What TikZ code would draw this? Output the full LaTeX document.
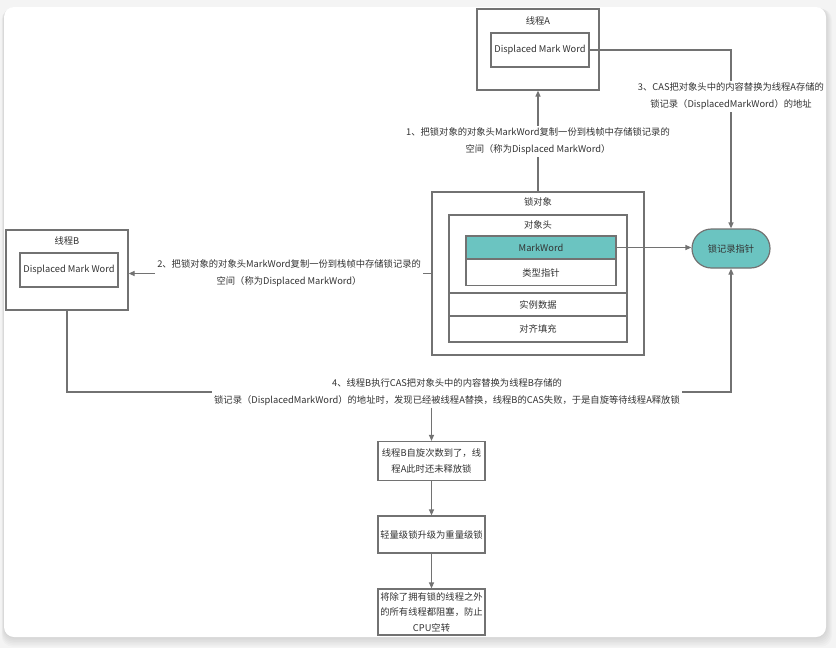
\documentclass[tikz,border=0pt]{standalone}
\usepackage{fontspec}
\setmainfont{Noto Sans CJK SC}
\usetikzlibrary{arrows.meta,shapes.misc}
\definecolor{markteal}{HTML}{6BC4C1}
\definecolor{wire}{HTML}{727272}
\definecolor{ink}{HTML}{333333}
\definecolor{page}{HTML}{F4F4F4}

\begin{document}
\begin{tikzpicture} [x=1pt,y=-1pt,
  box/.style= {shape=rectangle,draw=wire,line width=1.2pt,inner sep=0,text=ink,font=\fontsize{9.3}{15.5}\selectfont,align=center},
  title/.style= {text=ink,inner sep=0,font=\fontsize{9.3}{15.5}\selectfont},
  lbl/.style= {fill=white,text=ink,inner sep=2pt,align=center,font=\fontsize{9.3}{17}\selectfont},
  arr/.style= {draw=wire,line width=1.2pt,-{Triangle[length=6pt,width=5pt]}},
  wire/.style= {draw=wire,line width=1.2pt}]
  % Card
  \useasboundingbox (0,0) rectangle (836,648);
  \fill[page] (0,0) rectangle (836,648);
  \foreach \s in {1,...,6}
    {\fill[black,opacity=0.02,rounded corners=11pt] ({4-\s*0.4},{7+\s*0.3}) rectangle ({826+\s*1.0},{637+\s*1.6});}
  \fill[white,rounded corners=10pt] (4,7) rectangle (826,637);
  % Thread A
  {\node[box] [minimum width=122pt,minimum height=81pt] (thA) at (538,49.5) { };}
  {\node[title] (thAt) at (538,21) {线程A};}
  {\node[box] [minimum width=98pt,minimum height=34pt] (dmwA) at (540,50) {Displaced Mark Word};}
  % Thread B
  {\node[box] [minimum width=122pt,minimum height=80pt] (thB) at (67,270) { };}
  {\node[title] (thBt) at (67,241) {线程B};}
  {\node[box] [minimum width=98pt,minimum height=34pt] (dmwB) at (69,270) {Displaced Mark Word};}
  % Lock object
  {\node[box] [minimum width=212pt,minimum height=163pt] (lock) at (538,273.5) { };}
  {\node[title] (lockt) at (538,202) {锁对象};}
  {\node[box] [minimum width=178pt,minimum height=78pt] (hdr) at (538,254) { };}
  {\node[title] (hdrt) at (538,225) {对象头};}
  {\node[box] [minimum width=150pt,minimum height=23pt,fill=markteal] (mw) at (541,247.5) {MarkWord};}
  {\node[box] [minimum width=150pt,minimum height=26pt] (tp) at (541,272.5) {类型指针};}
  {\node[box] [minimum width=178pt,minimum height=23pt] (inst) at (538,304.5) {实例数据};}
  {\node[box] [minimum width=178pt,minimum height=26pt] (pad) at (538,329) {对齐填充};}
  % Lock record pointer
  {\node[box] [shape=rounded rectangle,minimum width=78pt,minimum height=39pt,fill=markteal] (ptr) at (731,248.5) {锁记录指针};}
  % Steps
  {\node[box] [minimum width=107pt,minimum height=39pt] (b1) at (431.5,461) {线程B自旋次数到了，线\\程A此时还未释放锁};}
  {\node[box] [minimum width=107pt,minimum height=37pt] (b2) at (431.5,534.5) {轻量级锁升级为重量级锁};}
  {\node[box] [minimum width=107pt,minimum height=46pt] (b3) at (431.5,612) {将除了拥有锁的线程之外\\的所有线程都阻塞，防止\\CPU空转};}
  % Connectors
  \draw[arr] (lock.north) -- node[lbl] (l1) {1、把锁对象的对象头MarkWord复制一份到栈帧中存储锁记录的\\空间（称为Displaced MarkWord）} (thA.south);
  \draw[arr] (lock.west) -- node[lbl,pos=0.47] (l2) {2、把锁对象的对象头MarkWord复制一份到栈帧中存储锁记录的\\空间（称为Displaced MarkWord）} (lock.west -| thB.east);
  \draw[arr] (dmwA.east) -| node[lbl,pos=0.63] (l3) {3、CAS把对象头中的内容替换为线程A存储的\\锁记录（DisplacedMarkWord）的地址} (ptr.north);
  \draw[arr] (mw.east) -- (mw.east -| ptr.west);
  {\node[lbl] (l4) at (447,392) {4、线程B执行CAS把对象头中的内容替换为线程B存储的\\锁记录（DisplacedMarkWord）的地址时，发现已经被线程A替换，线程B的CAS失败，于是自旋等待线程A释放锁};}
  \draw[wire] (thB.south) |- (l4.west);
  \draw[arr] (l4.east) -| (ptr.south);
  \draw[arr] (b1.north |- l4.south) -- (b1.north);
  \draw[arr] (b1.south) -- (b2.north);
  \draw[arr] (b2.south) -- (b3.north);
\end{tikzpicture}
\end{document}
